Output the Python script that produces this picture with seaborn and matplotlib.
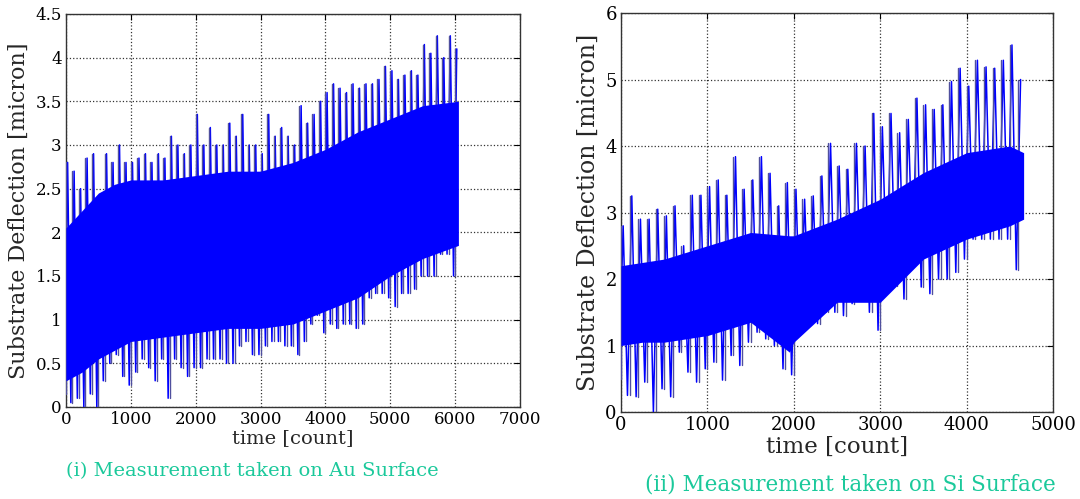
import numpy as np
import pandas as pd
import matplotlib
matplotlib.use("Agg")
import matplotlib.pyplot as plt
import seaborn as sns

# ---------------- data ----------------
# (i) Au surface: local max / min of the trace in each 100-count bin
au_t = list(range(0, 6100, 100))
au_hi = [2.8, 2.7, 2.5, 2.85, 2.9, 2.4, 2.9, 2.8, 3.0, 2.8,
         2.8, 2.85, 2.9, 2.8, 2.9, 2.85, 3.1, 3.0, 2.9, 3.0,
         3.35, 3.0, 3.2, 3.0, 3.0, 3.25, 3.1, 3.35, 3.0, 3.0,
         2.9, 3.35, 3.1, 3.2, 3.1, 3.0, 3.45, 3.25, 3.35, 3.5,
         3.6, 3.7, 3.65, 3.6, 3.7, 3.65, 3.7, 3.7, 3.75, 3.9,
         3.85, 3.75, 3.8, 3.85, 3.8, 4.15, 4.05, 4.25, 4.0, 4.25,
         4.1]
au_lo = [0.15, 0.05, 0.1, 0.0, 0.15, 0.0, 0.3, 0.5, 0.6, 0.35,
         0.25, 0.4, 0.55, 0.45, 0.3, 0.55, 0.1, 0.55, 0.45, 0.35,
         0.45, 0.45, 0.55, 0.55, 0.55, 0.5, 0.5, 0.7, 0.75, 0.6,
         0.6, 0.7, 0.75, 0.75, 0.7, 0.7, 0.6, 0.75, 0.95, 1.05,
         0.85, 0.95, 0.9, 0.95, 0.95, 0.9, 0.95, 1.25, 1.3, 1.3,
         1.25, 1.15, 1.3, 1.3, 1.35, 1.5, 1.5, 1.5, 1.75, 1.75,
         1.5]
# solid (dense) core of the Au trace
au_core_t = [0, 250, 500, 750, 1000, 1500, 2000, 2500, 3000, 3500,
             4000, 4500, 5000, 5500, 6050]
au_core_hi = [2.05, 2.25, 2.45, 2.55, 2.6, 2.6, 2.65, 2.7, 2.7, 2.8,
              2.95, 3.15, 3.3, 3.45, 3.5]
au_core_lo = [0.3, 0.4, 0.55, 0.65, 0.75, 0.8, 0.85, 0.9, 0.9, 0.95,
              1.1, 1.25, 1.5, 1.7, 1.85]

# (ii) Si surface: local max / min of the trace in each 100-count bin
si_t = list(range(0, 4700, 100))
si_hi = [2.8, 3.25, 2.9, 2.9, 3.05, 2.95, 3.1, 2.5, 3.26, 3.26,
         3.39, 3.49, 3.26, 3.84, 3.35, 3.49, 3.84, 3.59, 3.1, 3.45,
         3.35, 3.2, 3.25, 3.55, 4.04, 3.7, 3.65, 4.04, 4.0, 4.49,
         4.29, 4.49, 4.2, 4.4, 4.72, 4.62, 4.55, 4.62, 4.97, 5.17,
         4.9, 5.29, 5.19, 5.17, 5.29, 5.52, 5.0]
si_lo = [0.5, 0.25, 0.23, 0.45, 0.0, 0.35, 0.23, 0.9, 0.6, 0.45,
         0.65, 0.75, 0.48, 0.85, 0.7, 1.05, 1.2, 1.1, 1.0, 0.65,
         0.56, 1.2, 1.33, 1.33, 1.5, 1.5, 1.45, 1.63, 1.7, 1.5,
         1.23, 2.0, 1.9, 1.7, 2.24, 1.88, 1.78, 2.0, 2.0, 2.1,
         2.3, 2.6, 2.6, 2.6, 2.6, 2.6, 2.14]
si_core_t = [0, 250, 500, 1000, 1500, 1950, 2000, 2500, 3000, 3500,
             4000, 4500, 4660]
si_core_hi = [2.2, 2.25, 2.3, 2.5, 2.7, 2.65, 2.65, 2.9, 3.2, 3.6,
              3.9, 4.0, 3.9]
si_core_lo = [1.0, 1.05, 1.05, 1.15, 1.35, 0.9, 1.05, 1.65, 1.65, 2.3,
              2.6, 2.8, 2.9]

au_xticks = [0, 1000, 2000, 3000, 4000, 5000, 6000, 7000]
au_yticks = [0, 0.5, 1, 1.5, 2, 2.5, 3, 3.5, 4, 4.5]
au_ylabels = ["0", "0.5", "1", "1.5", "2", "2.5", "3", "3.5", "4", "4.5"]
si_xticks = [0, 1000, 2000, 3000, 4000, 5000]
si_yticks = [0, 1, 2, 3, 4, 5, 6]

xlabel = "time [count]"
ylabel = "Substrate Deflection [micron]"
cap_au = "(i) Measurement taken on Au Surface"
cap_si = "(ii) Measurement taken on Si Surface"

# ---------------- drawing ----------------
sns.set_style("white")
plt.rcParams["font.family"] = ["DejaVu Serif"]

fig = plt.figure(figsize=(10.8, 4.99), dpi=100)
ax1 = fig.add_axes([0.0611, 0.1844, 0.4204, 0.7876])
ax2 = fig.add_axes([0.575, 0.1743, 0.400, 0.7996])

SPIKE = "#50509e"
CORE = "#0000ff"
CAPC = "#1bc99b"


def spikes_frame(t, lo, hi):
    rows = []
    for k, (ti, l, h) in enumerate(zip(t, lo, hi)):
        rows.append((k, ti, l))
        rows.append((k, ti, h))
    return pd.DataFrame(rows, columns=["bin", "t", "v"])


def zigzag_frame(t, lo, hi, half):
    xs, ys = [], []
    for ti, l, h in zip(t, lo, hi):
        xs += [ti - half / 2, ti + half / 2]
        ys += [l, h]
    return pd.DataFrame({"t": xs, "v": ys})


def draw(ax, t, lo, hi, ct, chi, clo):
    zz = zigzag_frame(t, lo, hi, 50)
    sns.lineplot(data=zz, x="t", y="v", sort=False, estimator=None,
                 color=CORE, lw=1.1, ax=ax, zorder=3)
    sp = spikes_frame(t, lo, hi)
    sns.lineplot(data=sp, x="t", y="v", units="bin", estimator=None,
                 sort=False, color=SPIKE, lw=1.0, ax=ax, zorder=4)
    ax.fill_between(ct, clo, chi, color=CORE, lw=0, zorder=5)


draw(ax1, au_t, au_lo, au_hi, au_core_t, au_core_hi, au_core_lo)
draw(ax2, si_t, si_lo, si_hi, si_core_t, si_core_hi, si_core_lo)


def style(ax, xt, yt, xlim, ylim, ylabels=None, tfs=12, xfs=14, yfs=15):
    ax.set_xlim(*xlim)
    ax.set_ylim(*ylim)
    ax.set_xticks(xt)
    ax.set_yticks(yt)
    if ylabels is not None:
        ax.set_yticklabels(ylabels)
    ax.grid(True, ls=":", color="black", lw=0.9, alpha=0.8)
    ax.set_axisbelow(True)
    ax.tick_params(direction="in", top=True, right=True, length=4,
                   width=0.8, labelsize=tfs, pad=3, colors="black")
    for s in ax.spines.values():
        s.set_visible(True)
        s.set_color("#333333")
        s.set_linewidth(1.0)
    ax.set_xlabel(xlabel, fontsize=xfs, labelpad=1)
    ax.set_ylabel(ylabel, fontsize=yfs, labelpad=4)


style(ax1, au_xticks, au_yticks, (0, 7000), (0, 4.5), au_ylabels,
      tfs=12, xfs=14, yfs=16)
style(ax2, si_xticks, si_yticks, (0, 5000), (0, 6), None,
      tfs=13, xfs=16.5, yfs=17)

fig.text(0.061, 0.055, cap_au, color=CAPC, fontsize=14, ha="left", va="center")
fig.text(0.597, 0.03, cap_si, color=CAPC, fontsize=15.5, ha="left", va="center")

fig.savefig("out.png", dpi=100)
